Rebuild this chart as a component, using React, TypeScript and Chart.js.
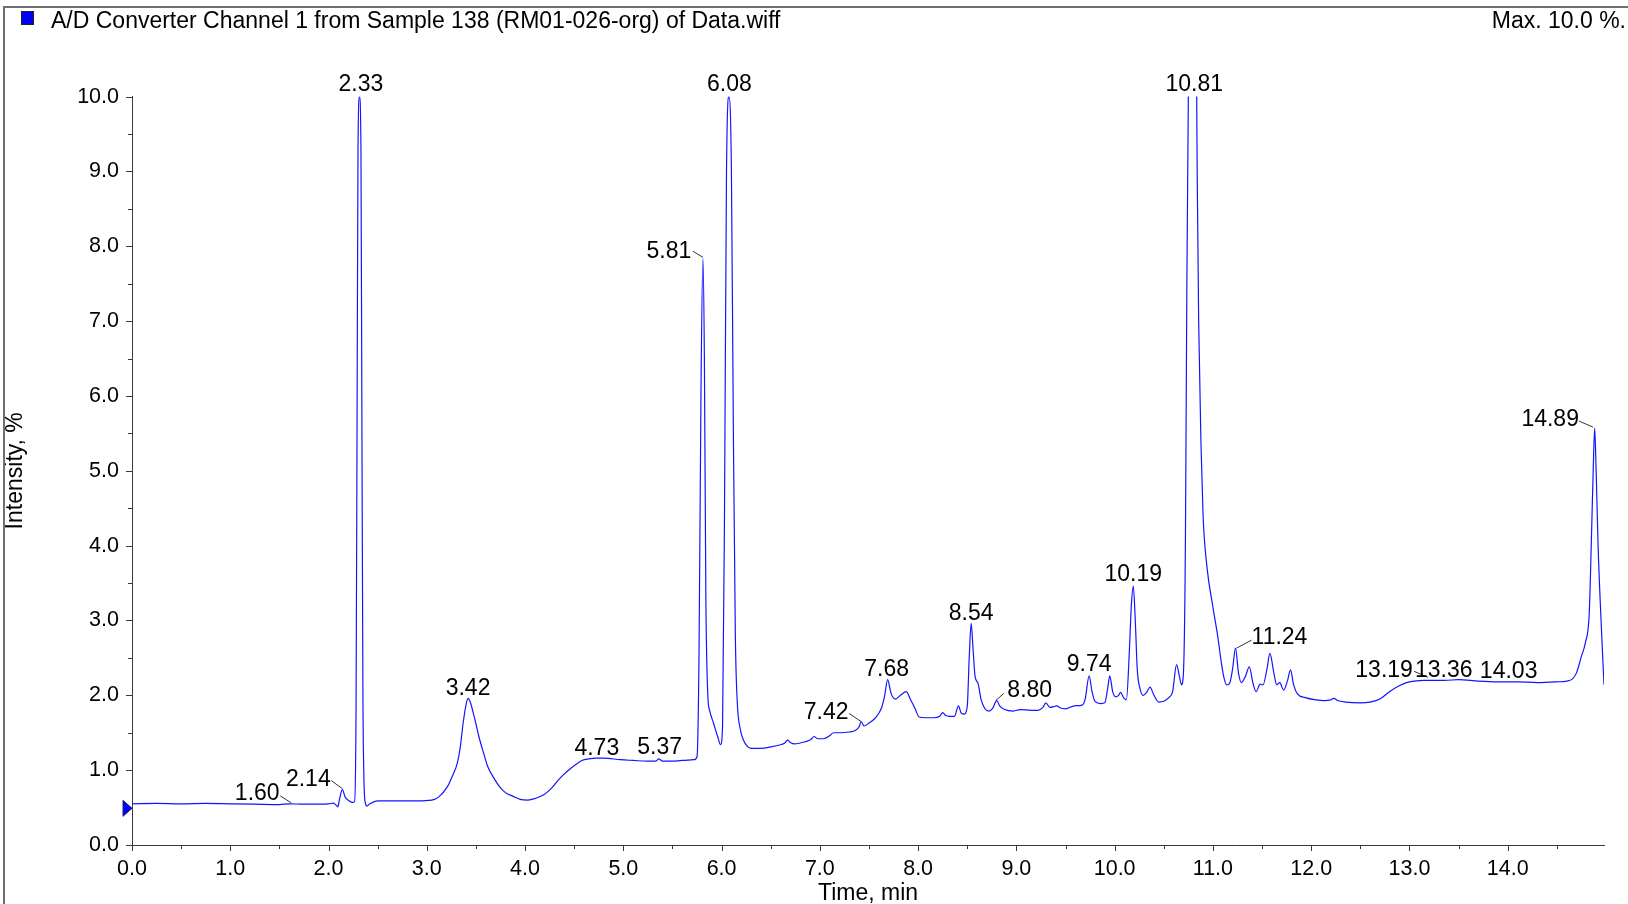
import React, { useEffect, useRef } from "react";
import { Chart, registerables } from "chart.js";

Chart.register(...registerables);

// ---- Data ----
const timeMin = [
  0.0, 0.25, 0.5, 0.75, 1.0, 1.25, 1.5, 1.6, 1.75, 2.0, 2.05, 2.08, 2.095, 2.11, 2.14, 2.17, 2.2, 2.24, 2.265,
  2.28, 2.29, 2.3, 2.315, 2.33, 2.34, 2.35, 2.36, 2.375, 2.39, 2.42, 2.5, 2.7, 2.9, 3.05, 3.12, 3.21, 3.26,
  3.31, 3.34, 3.37, 3.4, 3.42, 3.44, 3.47, 3.5, 3.53, 3.58, 3.62, 3.68, 3.74, 3.8, 3.88, 3.95, 4.03, 4.1,
  4.19, 4.27, 4.34, 4.4, 4.46, 4.52, 4.58, 4.65, 4.72, 4.8, 4.97, 5.1, 5.24, 5.33, 5.36, 5.4, 5.5, 5.6,
  5.72, 5.75, 5.77, 5.79, 5.81, 5.825, 5.84, 5.86, 5.88, 5.92, 5.96, 5.99, 6.01, 6.03, 6.05, 6.075, 6.1,
  6.12, 6.14, 6.16, 6.19, 6.22, 6.26, 6.3, 6.4, 6.5, 6.6, 6.64, 6.67, 6.7, 6.74, 6.85, 6.91, 6.94, 6.98,
  7.04, 7.1, 7.14, 7.2, 7.3, 7.36, 7.4, 7.42, 7.45, 7.5, 7.56, 7.6, 7.63, 7.66, 7.69, 7.72, 7.74, 7.77,
  7.82, 7.88, 7.92, 7.97, 8.01, 8.08, 8.16, 8.22, 8.25, 8.28, 8.32, 8.37, 8.41, 8.44, 8.47, 8.5, 8.52,
  8.54, 8.56, 8.58, 8.61, 8.64, 8.68, 8.72, 8.76, 8.8, 8.83, 8.88, 8.97, 9.04, 9.15, 9.22, 9.27, 9.3,
  9.34, 9.38, 9.41, 9.45, 9.5, 9.59, 9.67, 9.7, 9.74, 9.77, 9.8, 9.86, 9.9, 9.93, 9.95, 9.98, 10.01,
  10.04, 10.06, 10.09, 10.12, 10.15, 10.17, 10.19, 10.21, 10.23, 10.26, 10.29, 10.33, 10.36, 10.4, 10.45,
  10.5, 10.55, 10.59, 10.63, 10.66, 10.68, 10.7, 10.72, 10.735, 10.75, 10.77, 10.795, 10.82, 10.835,
  10.84, 10.855, 10.88, 10.9, 10.94, 11.0, 11.05, 11.08, 11.11, 11.14, 11.17, 11.2, 11.23, 11.26, 11.29,
  11.33, 11.37, 11.41, 11.44, 11.48, 11.51, 11.55, 11.58, 11.62, 11.65, 11.68, 11.72, 11.76, 11.79,
  11.82, 11.86, 11.94, 12.05, 12.13, 12.2, 12.23, 12.27, 12.35, 12.5, 12.6, 12.7, 12.8, 12.9, 12.97,
  13.05, 13.15, 13.25, 13.36, 13.5, 13.7, 13.9, 14.1, 14.3, 14.5, 14.6, 14.66, 14.7, 14.75, 14.79,
  14.83, 14.85, 14.87, 14.885, 14.9, 14.92, 14.95, 14.98,
];

const intensityPct = [
  0.55, 0.555, 0.55, 0.555, 0.55, 0.545, 0.54, 0.55, 0.545, 0.55, 0.56, 0.53, 0.51, 0.6, 0.74, 0.64, 0.6, 0.57, 0.58,
  1.8, 5.5, 9.3, 10.0, 9.3, 5.5, 2.0, 0.9, 0.56, 0.52, 0.55, 0.59, 0.59, 0.59, 0.6, 0.64, 0.78, 0.92,
  1.09, 1.3, 1.63, 1.88, 1.96, 1.92, 1.78, 1.62, 1.45, 1.22, 1.05, 0.9, 0.78, 0.7, 0.65, 0.61, 0.6, 0.62,
  0.67, 0.76, 0.87, 0.95, 1.02, 1.08, 1.13, 1.15, 1.16, 1.16, 1.14, 1.13, 1.12, 1.12, 1.15, 1.12, 1.12, 1.13,
  1.14, 1.18, 2.5, 6.0, 7.84, 6.5, 3.3, 2.0, 1.79, 1.62, 1.45, 1.34, 1.6, 4.5, 9.0, 10.0, 9.0,
  5.5, 2.8, 1.9, 1.55, 1.41, 1.32, 1.29, 1.29, 1.31, 1.34, 1.36, 1.4, 1.37, 1.35, 1.38, 1.41, 1.45, 1.42,
  1.42, 1.46, 1.5, 1.5, 1.51, 1.53, 1.58, 1.65, 1.59, 1.63, 1.69, 1.76, 1.84, 2.0, 2.21, 2.05, 1.98, 1.95,
  2.0, 2.05, 1.95, 1.82, 1.71, 1.7, 1.7, 1.72, 1.77, 1.73, 1.72, 1.72, 1.86, 1.76, 1.75, 1.85, 2.5,
  2.96, 2.6, 2.25, 2.16, 1.95, 1.82, 1.79, 1.83, 1.93, 1.86, 1.81, 1.79, 1.81, 1.8, 1.8, 1.84, 1.9,
  1.84, 1.85, 1.86, 1.83, 1.82, 1.86, 1.87, 1.95, 2.26, 2.05, 1.92, 1.89, 1.9, 2.1, 2.26, 2.05, 1.98,
  2.0, 2.04, 1.97, 1.94, 2.6, 3.2, 3.46, 3.0, 2.35, 2.08, 2.0, 2.05, 2.11, 2.0, 1.91,
  1.92, 1.97, 2.05, 2.41, 2.25, 2.14, 2.3, 4.0, 7.5, 10.0, 12.5, 14.0, 12.5, 10.0,
  9.0, 7.0, 5.3, 4.4, 3.71, 3.18, 2.78, 2.49, 2.25, 2.14, 2.16, 2.35, 2.63, 2.3, 2.17,
  2.25, 2.38, 2.15, 2.05, 2.15, 2.14, 2.35, 2.56, 2.3, 2.14, 2.17, 2.07, 2.2, 2.34,
  2.15, 2.02, 1.97, 1.94, 1.93, 1.94, 1.96, 1.93, 1.91, 1.9, 1.91, 1.95, 2.05, 2.13, 2.17,
  2.19, 2.2, 2.2, 2.2, 2.21, 2.19, 2.18, 2.18, 2.17, 2.18, 2.19, 2.22, 2.3, 2.52, 2.7,
  3.1, 3.99, 5.0, 5.57, 5.0, 3.99, 3.0, 2.14,
];

// Peak annotations: retention time labels and the height they point at
const peakTimes = [1.6, 2.14, 2.33, 3.42, 4.73, 5.37, 5.81, 6.08, 7.42, 7.68, 8.54, 8.8, 9.74, 10.19, 10.81, 11.24, 13.19, 13.36, 14.03, 14.89];
const peakHeights = [0.55, 0.74, 10.0, 1.96, 1.16, 1.15, 7.84, 10.0, 1.65, 2.21, 2.96, 1.93, 2.26, 3.46, 10.0, 2.63, 2.2, 2.2, 2.18, 5.57];

// Axis settings
const xMin = 0;
const xMax = 14.98;
const yMin = 0;
const yMax = 10;
const tickStep = 0.5;
const baselineMarker = 0.49;

const titleText = "A/D Converter Channel 1 from Sample 138 (RM01-026-org) of Data.wiff";
const maxText = "Max. 10.0 %.";
const xTitle = "Time, min";
const yTitle = "Intensity, %";

// ---- Presentation (pixel offsets of label text / leader lines relative to the peak) ----
const labelOffsets: [number, number][] = [
  [-32, -10], [-34, -10], [0, -12], [0, -10], [0, -10], [0, -11], [-34, -7], [0, -12], [-35, -9], [0, -10],
  [0, -10], [33, -10], [0, -11], [0, -11], [0, -12], [43, -11], [-44, -10], [-1, -10], [-2, -10], [-45, -8],
];
const leaderOffsets: (null | [number, number, number, number])[] = [
  [-9, -8, 2, -1], [-11, -9, 0, -1], null, null, null, null, [-10, -7, 0, -1], null, [-12, -8, 0, 0], null,
  null, [7, -7, -1, 0], null, null, null, [15, -8, 0, 0], [-14, -9, 0, -3], null, null, [-16, -7, -2, -1],
];

const FONT_FAMILY = '"Liberation Sans", Arial, Helvetica, sans-serif';
const TICK_FONT_SIZE = 21.5;
const TEXT_FONT_SIZE = 23;
const LINE_COLOR = "rgb(20,20,255)";
const AXIS_COLOR = "#3a3a3a";

const decor = {
  id: "decor",
  afterDraw(chart: any) {
    const { ctx, chartArea, scales } = chart;
    const xs = scales.x;
    const ys = scales.y;
    ctx.save();

    // outer frame
    ctx.strokeStyle = "#707070";
    ctx.lineWidth = 2;
    ctx.beginPath();
    ctx.moveTo(4, 1000);
    ctx.lineTo(4, 7);
    ctx.lineTo(1700, 7);
    ctx.stroke();

    // header
    ctx.fillStyle = "#0000ff";
    ctx.fillRect(21, 11, 13, 14);
    ctx.strokeStyle = "#222";
    ctx.lineWidth = 1;
    ctx.strokeRect(21.5, 11.5, 12, 13);
    ctx.fillStyle = "#000";
    ctx.font = `${TEXT_FONT_SIZE}px ${FONT_FAMILY}`;
    ctx.textBaseline = "middle";
    ctx.textAlign = "left";
    ctx.fillText(titleText, 51, 22);
    ctx.textAlign = "right";
    ctx.fillText(maxText, 1626, 22);

    // tick marks
    ctx.strokeStyle = AXIS_COLOR;
    ctx.lineWidth = 1;
    ctx.beginPath();
    for (const t of xs.ticks) {
      const major = Math.abs(t.value - Math.round(t.value)) < 1e-6;
      const px = Math.round(xs.getPixelForValue(t.value)) + 0.5;
      ctx.moveTo(px, chartArea.bottom);
      ctx.lineTo(px, chartArea.bottom + (major ? 6 : 4));
    }
    for (const t of ys.ticks) {
      const major = Math.abs(t.value - Math.round(t.value)) < 1e-6;
      const py = Math.round(ys.getPixelForValue(t.value)) + 0.5;
      ctx.moveTo(chartArea.left - (major ? 6 : 4), py);
      ctx.lineTo(chartArea.left, py);
    }
    ctx.stroke();

    // baseline marker triangle
    const my = ys.getPixelForValue(baselineMarker);
    const mx = chartArea.left;
    ctx.fillStyle = "#0000ff";
    ctx.strokeStyle = "#202060";
    ctx.beginPath();
    ctx.moveTo(mx - 9, my - 8);
    ctx.lineTo(mx, my);
    ctx.lineTo(mx - 9, my + 8);
    ctx.closePath();
    ctx.fill();
    ctx.stroke();

    // peak labels
    ctx.fillStyle = "#000";
    ctx.textAlign = "center";
    ctx.textBaseline = "middle";
    ctx.font = `${TEXT_FONT_SIZE}px ${FONT_FAMILY}`;
    peakTimes.forEach((t, i) => {
      const ax = xs.getPixelForValue(t);
      const ay = ys.getPixelForValue(peakHeights[i]);
      const [dx, dy] = labelOffsets[i];
      ctx.fillText(t.toFixed(2), ax + dx, ay + dy);
      const ld = leaderOffsets[i];
      if (ld) {
        ctx.strokeStyle = "#000";
        ctx.lineWidth = 0.8;
        ctx.beginPath();
        ctx.moveTo(ax + ld[0], ay + ld[1]);
        ctx.lineTo(ax + ld[2], ay + ld[3]);
        ctx.stroke();
      }
    });

    ctx.restore();
  },
};

export default function App() {
  const ref = useRef<HTMLCanvasElement>(null);

  useEffect(() => {
    const canvas = ref.current;
    if (!canvas) return;
    const points = timeMin.map((t, i) => ({ x: t, y: intensityPct[i] }));
    const tickFont = { family: FONT_FAMILY, size: TICK_FONT_SIZE };
    const titleFont = { family: FONT_FAMILY, size: TEXT_FONT_SIZE };
    const isMajor = (v: number) => Math.abs(v - Math.round(v)) < 1e-6;

    const chart = new Chart(canvas, {
      type: "line",
      data: {
        datasets: [
          {
            data: points,
            borderColor: LINE_COLOR,
            borderWidth: 1.2,
            pointRadius: 0,
            cubicInterpolationMode: "monotone",
            fill: false,
          },
        ],
      },
      options: {
        animation: false,
        responsive: false,
        devicePixelRatio: 1,
        events: [],
        layout: { padding: { top: 96.6, right: 24, left: 0, bottom: 0 } },
        plugins: {
          legend: { display: false },
          title: { display: false },
          tooltip: { enabled: false },
        },
        scales: {
          x: {
            type: "linear",
            min: xMin,
            max: xMax,
            afterFit: (s: any) => {
              s.height = 59;
            },
            border: { display: true, color: AXIS_COLOR, width: 1 },
            grid: { display: true, drawOnChartArea: false, drawTicks: true, tickLength: 5, color: "rgba(0,0,0,0)" },
            ticks: {
              stepSize: tickStep,
              includeBounds: false,
              autoSkip: false,
              maxRotation: 0,
              minRotation: 0,
              padding: 6,
              color: "#000",
              font: tickFont,
              callback: (v: any) => (isMajor(Number(v)) ? Number(v).toFixed(1) : ""),
            },
            title: { display: true, text: xTitle, color: "#000", font: titleFont, padding: { top: 0, bottom: -3 } },
          },
          y: {
            type: "linear",
            min: yMin,
            max: yMax,
            afterFit: (s: any) => {
              s.width = 132;
            },
            border: { display: true, color: AXIS_COLOR, width: 1 },
            grid: { display: true, drawOnChartArea: false, drawTicks: true, tickLength: 5, color: "rgba(0,0,0,0)" },
            ticks: {
              stepSize: tickStep,
              includeBounds: false,
              autoSkip: false,
              padding: 8,
              color: "#000",
              font: tickFont,
              callback: (v: any) => (isMajor(Number(v)) ? Number(v).toFixed(1) : ""),
            },
            title: { display: true, text: yTitle, color: "#000", font: titleFont, padding: { top: 2, bottom: 0 } },
          },
        },
      },
      plugins: [decor],
    } as any);

    return () => chart.destroy();
  }, []);

  return (
    <div style={{ position: "fixed", left: 0, top: 0, width: 1628, height: 904, background: "#fff" }}>
      <canvas ref={ref} width={1628} height={904} style={{ width: 1628, height: 904, display: "block" }} />
    </div>
  );
}
